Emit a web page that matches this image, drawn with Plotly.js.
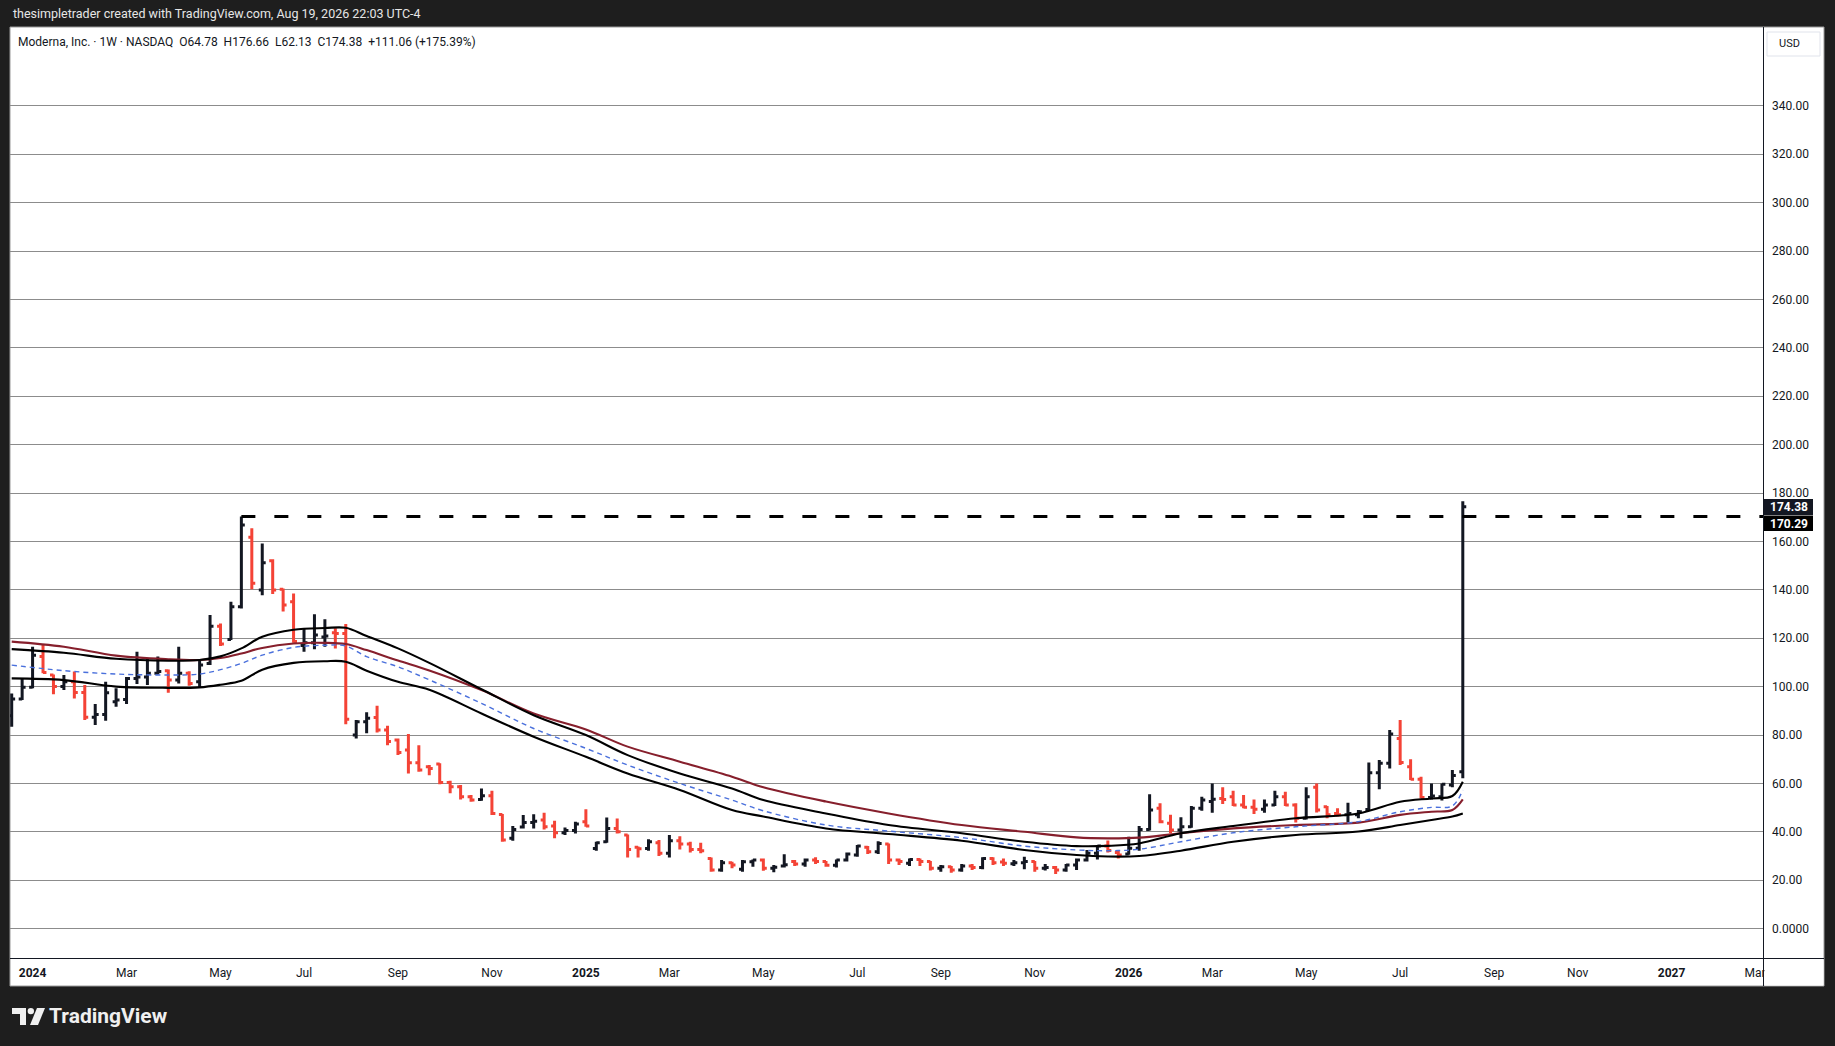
<!DOCTYPE html>
<html><head><meta charset="utf-8">
<script src="https://cdn.plot.ly/plotly-3.0.1.min.js"></script>
<style>html,body{margin:0;padding:0;background:#1e1e1e;overflow:hidden}#chart{width:1835px;height:1046px}</style>
</head><body><div id="chart"></div>
<script>
const dates = [
"2023-12-18","2023-12-25",
"2024-01-01","2024-01-08","2024-01-15","2024-01-22","2024-01-29",
"2024-02-05","2024-02-12","2024-02-19","2024-02-26",
"2024-03-04","2024-03-11","2024-03-18","2024-03-25",
"2024-04-01","2024-04-08","2024-04-15","2024-04-22","2024-04-29",
"2024-05-06","2024-05-13","2024-05-20","2024-05-27",
"2024-06-03","2024-06-10","2024-06-17","2024-06-24",
"2024-07-01","2024-07-08","2024-07-15","2024-07-22","2024-07-29",
"2024-08-05","2024-08-12","2024-08-19","2024-08-26",
"2024-09-02","2024-09-09","2024-09-16","2024-09-23","2024-09-30",
"2024-10-07","2024-10-14","2024-10-21","2024-10-28",
"2024-11-04","2024-11-11","2024-11-18","2024-11-25",
"2024-12-02","2024-12-09","2024-12-16","2024-12-23","2024-12-30",
"2025-01-06","2025-01-13","2025-01-20","2025-01-27",
"2025-02-03","2025-02-10","2025-02-17","2025-02-24",
"2025-03-03","2025-03-10","2025-03-17","2025-03-24","2025-03-31",
"2025-04-07","2025-04-14","2025-04-21","2025-04-28",
"2025-05-05","2025-05-12","2025-05-19","2025-05-26",
"2025-06-02","2025-06-09","2025-06-16","2025-06-23","2025-06-30",
"2025-07-07","2025-07-14","2025-07-21","2025-07-28",
"2025-08-04","2025-08-11","2025-08-18","2025-08-25",
"2025-09-01","2025-09-08","2025-09-15","2025-09-22","2025-09-29",
"2025-10-06","2025-10-13","2025-10-20","2025-10-27",
"2025-11-03","2025-11-10","2025-11-17","2025-11-24",
"2025-12-01","2025-12-08","2025-12-15","2025-12-22","2025-12-29",
"2026-01-05","2026-01-12","2026-01-19","2026-01-26",
"2026-02-02","2026-02-09","2026-02-16","2026-02-23",
"2026-03-02","2026-03-09","2026-03-16","2026-03-23","2026-03-30",
"2026-04-06","2026-04-13","2026-04-20","2026-04-27",
"2026-05-04","2026-05-11","2026-05-18","2026-05-25",
"2026-06-01","2026-06-08","2026-06-15","2026-06-22","2026-06-29",
"2026-07-06","2026-07-13","2026-07-20","2026-07-27",
"2026-08-03","2026-08-10","2026-08-17"];

const openP = [88,94.9,99.7,112.4,104.8,100,102,97.6,87.3,88.5,
93.8,94.7,103.4,104,105.5,106.6,102.7,105.5,102,109.6,
125,119.5,133,161.7,139.9,152,140.2,135.1,117,118.1,
120.5,122.3,122,80,85.5,87.2,82.1,77.9,73.8,68.5,
66.9,68,60.4,58.6,54.5,53.4,54.9,47.2,37.3,42,
43.8,44.9,42.4,39.6,40.5,44.2,33.1,35.9,41.4,38.7,
33.6,33.1,35.5,31.1,36.3,35,32.7,29,24.2,27.2,
24.5,27.6,28.3,24.9,25.9,27.7,26.7,28.3,27.7,26.2,
28.3,30.4,33.6,31.8,35,28.3,27,28.6,27.7,24.9,
25.6,24.2,25.9,25.3,29,27.5,26.8,27.2,27.7,24.9,
25.3,24.2,26.3,28.3,31.1,34.1,31.5,30.8,33.2,41,
49.7,43.5,40.7,42.1,49.7,52.5,53.8,54.5,51.1,50.1,
49.3,51.1,54.5,51.1,45.6,58.4,50.4,47.6,47,47,
49.2,64.4,68.3,78.6,66.9,61.7,54.2,54.5,59.3,64.78];
const highP = [97.2,103.4,116.5,117.2,105,104.8,106.2,100.7,92.8,102,
99.3,104,114.4,111.7,112.4,107.1,116.5,106.4,111.4,129.6,
126.1,135.1,170.29,165.4,159.2,152.6,140.5,138.5,124.1,129.9,
127.8,124.1,125.9,86.2,89.4,92.1,83.8,78.6,80.4,75.8,
67.6,68.3,61.1,59.3,55.2,57.9,57,47.4,42.4,46.9,
47.3,47.9,44.6,41.8,44.2,49.3,35.9,45.9,45.5,38.9,
33.9,36.9,36.6,38.7,38.2,35.9,35.5,29.4,28.3,27.6,
28.3,28.6,29,26.3,30.7,28.3,29,29.5,27.9,28.6,
31.4,34.5,34.1,36.1,35.2,29,29,29,27.9,26.3,
25.9,26.7,26.7,29.5,29.5,29,28.3,29.7,27.9,26.7,
25.9,26.7,29,32.5,34.5,36.4,32.3,38,42.4,55.5,
51.8,47,46,50.7,54.5,60,58.4,57,55.2,53.4,
53.4,57,56.6,51.8,58.4,60,50.7,49.7,52,49,
68.6,69.7,82.1,86.2,70,62.8,60,60,65.5,176.66];
const lowP = [83.4,94.5,99.3,105.5,96.8,98.6,95.1,86.2,84.1,85.9,
91.7,92.8,101.1,100.7,105,97.5,101.3,100.4,99.7,108.9,
116.8,119.3,132.3,140.2,137.8,138.3,131,118.1,114.4,115.4,
116.5,115.8,84.5,78.6,80.7,81,75.8,71.7,64.1,64.8,
63.4,59.7,55.9,53.4,52.4,52.8,46.9,35.9,36.3,41.4,
41.4,41,37.3,38.7,39.3,42.1,32.2,35.5,39.3,29.4,
29.4,32.2,30,29.4,32.7,31.4,31.1,23.5,23.5,24.9,
23.5,25.6,23.9,23.3,25.3,25.9,25.6,26.7,25.6,25.3,
27.7,29.7,30.8,30.8,26.7,26.3,25.9,25.9,24,23.5,
23.1,23.5,24.2,24.5,26.3,25.9,25.9,24.5,23.5,24,
22.6,23.5,24.2,27.7,28.6,31.5,29,30.5,32.2,40.5,
43.5,39.4,37.3,41.7,48.7,47.9,51.5,50.7,49.7,47.4,
47.9,50.7,50.7,43.8,45.1,48,45.6,46.3,43.8,45.6,
48.8,57.6,66.2,67.6,61.4,53.8,53.4,52.9,58.4,62.13];
const closeP = [94.9,99.7,113,105.8,100,102,97.6,87.3,88.5,97.5,
94.5,103.4,104,105.5,106.2,102.7,105.5,101.3,108.9,125,
117.6,133,166.8,142.7,151.2,139.9,133.7,118.6,118.1,121.3,
120.9,122,86.5,85.5,86.9,82.1,77.3,72.8,68.5,65.5,
66.2,60.4,58.6,54.5,53.1,54.9,47.6,36.6,41,43.8,
44.4,42.1,39.6,40.5,43.2,42.4,35.5,41.4,40,32.7,
33,35.9,31.1,36.3,35,32.7,32.2,24.2,27.2,26.3,
27.6,28.3,24.9,25.4,26.4,26.7,28.3,27.7,26.2,28.3,
30.8,34.1,31.8,35.2,28.3,27.7,28.6,27.7,24.9,25.6,
24.2,25.9,25.3,29,27.2,27,27.2,27.7,24.9,25.3,
24.2,26.3,28.3,31.1,34.1,32.3,30.4,33.2,41,49,
44.2,40.7,42.1,49.7,53.1,53.5,53.4,51.1,50.1,49.3,
51.1,54.5,51.1,45.6,54.5,49,47,47,47.6,48.3,
64.4,68.3,80.4,68.6,61.7,54.2,54.8,59.7,63.32,174.38];

// indicator lines at sample bars
const maIdx   = [0,5,10,15,18,20,22,24,27,30,32,34,37,40,45,50,55,59,64,69,72,78,84,91,97,102,105,108,112,117,123,129,133,136,138,139];
const maUpper = [115.5,114,111.5,110.7,111,112.5,115.8,120.6,123.5,124.2,124.3,120.9,115.8,109.8,98.9,88.2,80,71.7,64.1,57.9,53.1,47.6,42.8,39.4,35.9,34.1,34.2,35.2,39.4,42.4,45.6,47.6,52.4,53.8,54.8,60.7];
const maRed   = [118.6,116.5,112.8,111.3,111,111.8,113.7,116,117.8,118.1,117.6,115.1,110.8,106.7,98.6,88.9,82.3,75.2,69,62.8,58.4,52.5,47.6,42.8,40,37.7,37.3,37.6,39.4,41.4,42.8,43.8,47,48.3,49,53.4];
const maBlue  = [108.9,106.6,105.2,104.8,105.2,107,109.6,113,116.2,117.1,116.8,112.4,108.2,102.8,93.1,82.7,74.5,67.6,60,53.1,48.7,42.8,40.3,37.6,34.1,32.5,32.2,32.8,35.9,39.6,42.1,44.2,48.3,50.1,50.7,57.3];
const maLower = [103.4,102.7,100,99.5,99.7,100.8,102.4,107,109.8,110.5,110.3,106.6,102,98.7,88.9,79.3,71,64.1,57.3,49,46.3,41.4,39.1,36.3,32.5,30.4,29.8,30,32.2,35.9,38.7,40.1,42.8,44.9,46.3,47.6];

const yTickVals = [0,20,40,60,80,100,120,140,160,180,200,220,240,260,280,300,320,340];
const yTickText = ["0.0000","20.00","40.00","60.00","80.00","100.00","120.00","140.00","160.00","180.00","200.00","220.00","240.00","260.00","280.00","300.00","320.00","340.00"];
const xTickVals = ["2024-01-01","2024-03-04","2024-05-06","2024-07-01","2024-09-02","2024-11-04","2025-01-06","2025-03-03","2025-05-05","2025-07-07","2025-09-01","2025-11-03","2026-01-05","2026-03-02","2026-05-04","2026-07-06","2026-09-07","2026-11-02","2027-01-04","2027-03-01"];
const xTickText = ["<b>2024</b>","Mar","May","Jul","Sep","Nov","<b>2025</b>","Mar","May","Jul","Sep","Nov","<b>2026</b>","Mar","May","Jul","Sep","Nov","<b>2027</b>","Mar"];

const resistance = 170.29;
const resistanceStart = "2024-05-20";
const lastClose = 174.38;

const W=1835, H=1046, L=10, R=1763, T=27, B=958;
const pw=R-L, ph=B-T;
const px = x => (x-L)/pw, py = y => (B-y)/ph;
const xRange = ["2023-12-16 20:40","2027-03-06 07:00"];
const yRange = [-12.15, 372.6];
const FONT = 'Roboto, "DejaVu Sans", sans-serif';
const DARK = '#131722';

const maX = maIdx.map(i => dates[i]);
const lineTrace = (y, color, width, dash) => ({type:'scatter', mode:'lines', x:maX, y:y,
  line:{color:color, width:width, dash:dash||'solid', shape:'spline', smoothing:1}, hoverinfo:'skip', showlegend:false});

const traces = [
  lineTrace(maRed, '#861f2c', 2.1),
  lineTrace(maBlue, '#4a70dc', 1.4, '5px,4px'),
  lineTrace(maUpper, '#000000', 2.1),
  lineTrace(maLower, '#000000', 2.1),
  {type:'ohlc', x:dates, open:openP, high:highP, low:lowP, close:closeP,
   increasing:{line:{color:DARK, width:3}}, decreasing:{line:{color:'#f44336', width:3}},
   tickwidth:0.33, hoverinfo:'skip', showlegend:false}
];

function logoPath(pts){ return 'M' + pts.map(p => px(p[0]) + ',' + py(p[1])).join(' L') + ' Z'; }

const shapes = [
  {type:'rect', xref:'paper', yref:'paper', x0:px(10), x1:px(1824), y0:py(986), y1:py(27), fillcolor:'#ffffff', line:{color:'#9a9a9a', width:1}, layer:'below'},
  {type:'rect', xref:'paper', yref:'paper', x0:px(1764.5), x1:px(1823.5), y0:py(985.5), y1:py(959.5), fillcolor:'#ffffff', line:{width:0}},
  {type:'line', xref:'paper', yref:'paper', x0:px(1763.5), x1:px(1763.5), y0:py(27), y1:py(986), line:{color:DARK, width:1}},
  {type:'line', xref:'paper', yref:'paper', x0:px(10), x1:px(1824), y0:py(958.5), y1:py(958.5), line:{color:DARK, width:1}},
  {type:'line', xref:'x', yref:'y', x0:resistanceStart, x1:xRange[1], y0:resistance, y1:resistance, line:{color:'#000000', width:3, dash:'14px,19px'}},
  {type:'rect', xref:'paper', yref:'paper', x0:px(1764), x1:px(1813), y0:py(515), y1:py(499), fillcolor:DARK, line:{width:0}},
  {type:'rect', xref:'paper', yref:'paper', x0:px(1764), x1:px(1813), y0:py(531), y1:py(515.5), fillcolor:'#000000', line:{width:0}},
  {type:'rect', xref:'paper', yref:'paper', x0:px(1767), x1:px(1820), y0:py(56), y1:py(32), fillcolor:'#ffffff', line:{color:'#e0e3eb', width:1}},
  {type:'path', xref:'paper', yref:'paper', path:logoPath([[12,1008],[26,1008],[26,1025],[20,1025],[20,1014],[12,1014]]), fillcolor:'#f0f0f0', line:{width:0}},
  {type:'circle', xref:'paper', yref:'paper', x0:px(27.6), x1:px(34), y0:py(1014.3), y1:py(1007.9), fillcolor:'#f0f0f0', line:{width:0}},
  {type:'path', xref:'paper', yref:'paper', path:logoPath([[37,1008],[45,1008],[38,1025],[30,1025]]), fillcolor:'#f0f0f0', line:{width:0}}
];

const annotations = [
  {xref:'paper', yref:'paper', x:px(11), y:py(14), xanchor:'left', yanchor:'middle', showarrow:false,
   text:'thesimpletrader created with TradingView.com, Aug 19, 2026 22:03 UTC-4', font:{family:FONT, size:12.5, color:'#e6e6e6'}},
  {xref:'paper', yref:'paper', x:px(16), y:py(41.5), xanchor:'left', yanchor:'middle', showarrow:false,
   text:'Moderna, Inc. · 1W · NASDAQ  O64.78  H176.66  L62.13  C174.38  +111.06 (+175.39%)', font:{family:FONT, size:12, color:DARK}},
  {xref:'paper', yref:'paper', x:px(1777), y:py(44), xanchor:'left', yanchor:'middle', showarrow:false,
   text:'USD', font:{family:FONT, size:11, color:DARK}},
  {xref:'paper', yref:'paper', x:px(1768), y:py(507), xanchor:'left', yanchor:'middle', showarrow:false,
   text:'<b>' + lastClose.toFixed(2) + '</b>', font:{family:FONT, size:12, color:'#ffffff'}},
  {xref:'paper', yref:'paper', x:px(1768), y:py(523.5), xanchor:'left', yanchor:'middle', showarrow:false,
   text:'<b>' + resistance.toFixed(2) + '</b>', font:{family:FONT, size:12, color:'#ffffff'}},
  {xref:'paper', yref:'paper', x:px(47), y:py(1016), xanchor:'left', yanchor:'middle', showarrow:false,
   text:'<b>TradingView</b>', font:{family:FONT, size:21, color:'#f0f0f0'}}
];

const layout = {
  width:W, height:H,
  margin:{l:L, r:W-R, t:T, b:H-B, pad:0},
  paper_bgcolor:'#1e1e1e', plot_bgcolor:'#ffffff',
  showlegend:false, dragmode:false,
  font:{family:FONT, size:12, color:DARK},
  xaxis:{type:'date', range:xRange, rangeslider:{visible:false}, showgrid:false, zeroline:false, showline:false,
    tickmode:'array', tickvals:xTickVals, ticktext:xTickText, ticks:'', ticklabelstandoff:6,
    tickfont:{family:FONT, size:12, color:DARK}, fixedrange:true},
  yaxis:{range:yRange, side:'right', showgrid:true, gridcolor:'#8c8c8c', gridwidth:1, zeroline:false, showline:false,
    tickmode:'array', tickvals:yTickVals, ticktext:yTickText, ticks:'', ticklabelstandoff:8,
    tickfont:{family:FONT, size:12, color:DARK}, fixedrange:true},
  shapes:shapes, annotations:annotations
};

Plotly.newPlot('chart', traces, layout, {staticPlot:true, displayModeBar:false});
</script>
</body></html>
